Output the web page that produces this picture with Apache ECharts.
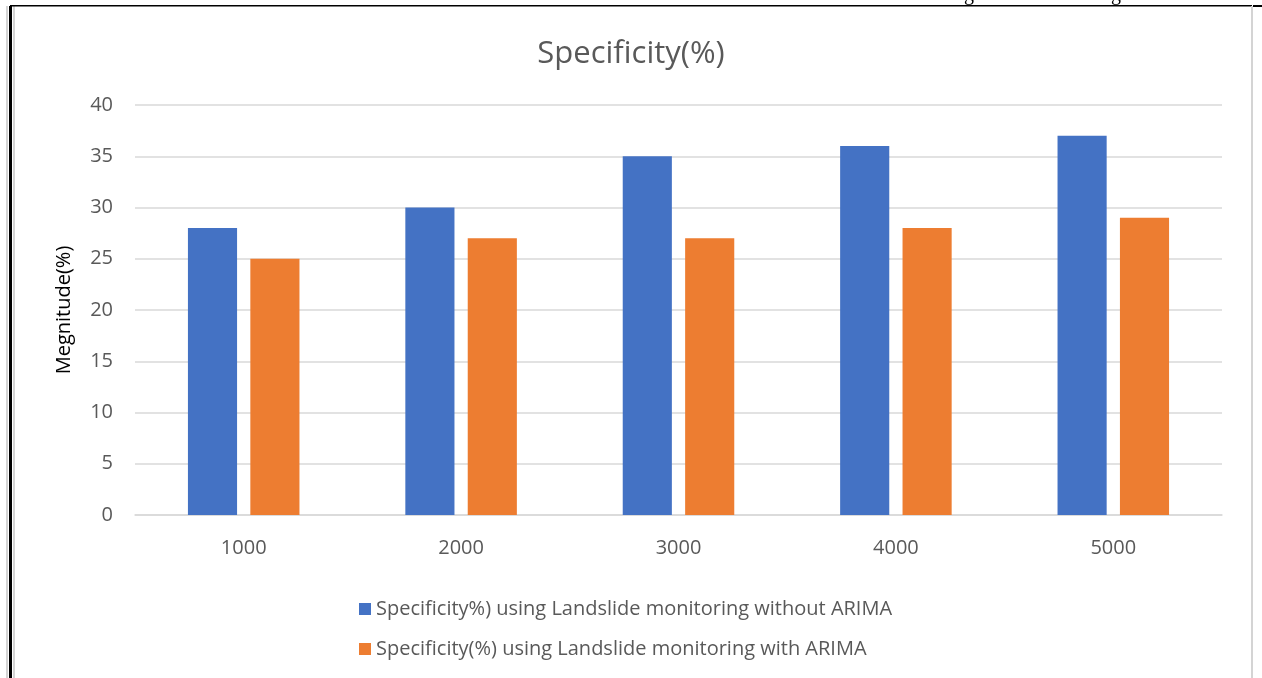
<!DOCTYPE html>
<html><head><meta charset="utf-8">
<script src="https://cdn.jsdelivr.net/npm/echarts@6/dist/echarts.min.js"></script>
<style>html,body{margin:0;padding:0;background:#fff}#c{width:1262px;height:678px}</style>
</head><body><div id="c"></div>
<script>
const categories = ['1000','2000','3000','4000','5000'];
const withoutArima = [28,30,35,36,37];
const withArima = [25,27,27,28,29];
const seriesNames = ['Specificity%) using Landslide monitoring without ARIMA','Specificity(%) using Landslide monitoring with ARIMA'];
const chart = echarts.init(document.getElementById('c'));
const font = 'Open Sans';
chart.setOption({
  animation:false,
  backgroundColor:'#fff',
  title:{text:'Specificity(%)',left:'center',top:34,textStyle:{fontFamily:font,fontSize:31,fontWeight:'normal',color:'#595959'}},
  grid:{left:135,right:40,top:105,bottom:163},
  legend:{orient:'vertical',left:354,top:591,itemGap:14,itemWidth:12,itemHeight:12,icon:'rect',
    textStyle:{fontFamily:font,fontSize:20,color:'#595959',lineHeight:26},data:seriesNames},
  xAxis:{type:'category',data:categories,axisTick:{show:false},
    axisLine:{lineStyle:{color:'#d9d9d9',width:1.5}},
    axisLabel:{fontFamily:font,fontSize:20,color:'#595959',margin:23}},
  yAxis:{type:'value',min:0,max:40,interval:5,name:'Megnitude(%)',nameLocation:'middle',nameGap:61,
    nameTextStyle:{fontFamily:font,fontSize:20,color:'#000'},
    axisLine:{show:false},axisTick:{show:false},
    axisLabel:{fontFamily:font,fontSize:20,color:'#595959',margin:22},
    splitLine:{lineStyle:{color:'#d9d9d9',width:1.5}}},
  series:[
    {name:seriesNames[0],type:'bar',data:withoutArima,barWidth:'22.6%',barGap:'27%',itemStyle:{color:'#4472c4'}},
    {name:seriesNames[1],type:'bar',data:withArima,barWidth:'22.6%',itemStyle:{color:'#ed7d31'}}
  ],
  graphic:[
    {type:'rect',shape:{x:6,y:6,width:2,height:680},style:{fill:'#d4d4d4'},silent:true},
    {type:'rect',shape:{x:9,y:6,width:3,height:680},style:{fill:'#000'},silent:true},
    {type:'rect',shape:{x:13,y:6,width:2,height:680},style:{fill:'#d4d4d4'},silent:true},
    {type:'rect',shape:{x:10,y:5,width:1242,height:1.5},style:{fill:'#000'},silent:true},
    {type:'rect',shape:{x:1251,y:6,width:2,height:680},style:{fill:'#d4d4d4'},silent:true},
    {type:'rect',shape:{x:1253,y:5,width:9,height:2},style:{fill:'#000'},silent:true},
    {type:'text',x:964,y:5,style:{text:'g',font:'20px "Liberation Serif"',fill:'#000',verticalAlign:'bottom'},silent:true},
    {type:'text',x:1111,y:5,style:{text:'g',font:'20px "Liberation Serif"',fill:'#000',verticalAlign:'bottom'},silent:true}
  ]
});
</script></body></html>
